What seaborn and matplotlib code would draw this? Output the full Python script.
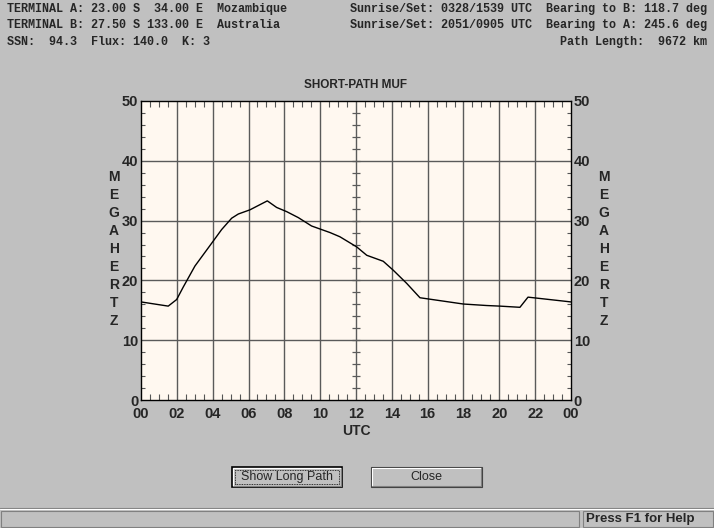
import numpy as np
import matplotlib
matplotlib.use("Agg")
import matplotlib.pyplot as plt
import seaborn as sns
from matplotlib.patches import Rectangle

# ---- data ----
hours = [0.0, 1.52, 1.99, 2.36, 3.01, 3.94, 4.5, 5.06, 5.43, 6.08, 7.05, 7.57, 8.13,
         8.78, 9.52, 10.08, 10.55, 11.1, 12.04, 12.6, 13.52, 14.08, 14.83, 15.57,
         17.99, 19.29, 20.03, 21.15, 21.6, 24.0]
muf = [16.4, 15.7, 16.8, 18.9, 22.4, 26.2, 28.5, 30.4, 31.1, 31.8, 33.3, 32.2, 31.5,
       30.5, 29.1, 28.5, 28.0, 27.3, 25.6, 24.2, 23.2, 21.7, 19.5, 17.1,
       16.05, 15.8, 15.7, 15.5, 17.2, 16.4]
xtick_vals = list(range(0, 25, 2))
xtick_labels = ["00", "02", "04", "06", "08", "10", "12", "14", "16", "18", "20", "22", "00"]
ytick_vals = [0, 10, 20, 30, 40, 50]

header_left = ["TERMINAL A: 23.00 S  34.00 E  Mozambique",
               "TERMINAL B: 27.50 S 133.00 E  Australia",
               "SSN:  94.3  Flux: 140.0  K: 3"]
header_mid = ["Sunrise/Set: 0328/1539 UTC", "Sunrise/Set: 2051/0905 UTC"]
header_right = ["Bearing to B: 118.7 deg", "Bearing to A: 245.6 deg", "Path Length:  9672 km"]

sns.set_style("white")
plt.rcParams['font.family'] = ['Liberation Sans', 'DejaVu Sans']

W, H = 714, 528
fig = plt.figure(figsize=(W / 100, H / 100), dpi=100, facecolor="#c0c0c0")

def fx(px):
    return px / W

def fy(py):
    return 1 - py / H

ax = fig.add_axes([fx(141), fy(400), fx(571) - fx(141), fy(101) - fy(400)])
ax.set_facecolor("#fff8f0")

grid_c = "#5a5a5a"
for xv in xtick_vals[1:-1]:
    ax.axvline(xv, color=grid_c, lw=1.0, zorder=1)
for yv in ytick_vals[1:-1]:
    ax.axhline(yv, color=grid_c, lw=1.0, zorder=1)

# centre cross ticks on the 12 h line
ax.hlines(np.arange(2, 50, 2), 11.8, 12.2, color=grid_c, lw=0.9, zorder=1)

sns.lineplot(x=hours, y=muf, ax=ax, color="black", lw=1.0, sort=False, zorder=3)

ax.set_xlim(0, 24)
ax.set_ylim(0, 50)
ax.set_xticks(xtick_vals)
ax.set_xticklabels(xtick_labels)
ax.set_yticks(ytick_vals)
ax.set_xticks(np.arange(0, 24.01, 0.5), minor=True)
ax.set_yticks(np.arange(0, 50.01, 2), minor=True)
ax.tick_params(axis="both", which="major", length=0, labelsize=10.5)
ax.tick_params(axis="x", which="major", pad=5)
ax.tick_params(axis="y", which="major", pad=2, left=True, right=True,
               labelleft=True, labelright=True)
ax.tick_params(axis="x", which="minor", direction="in", length=4, width=0.8,
               top=True, bottom=True, color="#555555")
ax.tick_params(axis="y", which="minor", direction="in", length=3, width=0.8,
               left=True, right=True, color="#555555")
for t in ax.xaxis.get_major_ticks():
    t.label1.set_fontweight("bold")
for t in ax.yaxis.get_major_ticks():
    t.label1.set_fontweight("bold")
    t.label2.set_fontweight("bold")
    t.label2.set_fontsize(10.5)
for s in ax.spines.values():
    s.set_color("black")
    s.set_linewidth(1.0)
ax.set_xlabel("")
ax.set_ylabel("")

# title and axis words
fig.text(fx(356), fy(85), "SHORT-PATH MUF", ha="center", va="center",
         fontsize=8.5, fontweight="bold")
fig.text(fx(356), fy(431), "UTC", ha="center", va="center", fontsize=10, fontweight="bold")
for i, ch in enumerate("MEGAHERTZ"):
    y = 177 + i * 18
    fig.text(fx(114), fy(y), ch, ha="center", va="center", fontsize=10, fontweight="bold")
    fig.text(fx(604), fy(y), ch, ha="center", va="center", fontsize=10, fontweight="bold")

# header lines
mono = ['Liberation Mono', 'DejaVu Sans Mono']
rows = [9, 25, 42]
for i, t in enumerate(header_left):
    fig.text(fx(7), fy(rows[i]), t, ha="left", va="center", family=mono,
             fontsize=8.5, fontweight="bold")
for i, t in enumerate(header_mid):
    fig.text(fx(350), fy(rows[i]), t, ha="left", va="center", family=mono,
             fontsize=8.5, fontweight="bold")
for i, t in enumerate(header_right):
    fig.text(fx(707), fy(rows[i]), t, ha="right", va="center", family=mono,
             fontsize=8.5, fontweight="bold")

# buttons
def button(x0, y0, x1, y1, label, focused=False):
    fig.patches.append(Rectangle((fx(x0), fy(y1)), fx(x1) - fx(x0), fy(y0) - fy(y1),
                                 transform=fig.transFigure, facecolor="#c0c0c0",
                                 edgecolor="black" if focused else "#404040",
                                 lw=1.2 if focused else 0.8))
    fig.add_artist(plt.Line2D([fx(x0 + 1), fx(x1 - 1)], [fy(y0 + 1), fy(y0 + 1)],
                              transform=fig.transFigure, color="white", lw=0.8))
    fig.add_artist(plt.Line2D([fx(x0 + 1), fx(x0 + 1)], [fy(y0 + 1), fy(y1 - 1)],
                              transform=fig.transFigure, color="white", lw=0.8))
    fig.add_artist(plt.Line2D([fx(x0 + 1), fx(x1 - 1)], [fy(y1 - 1.5), fy(y1 - 1.5)],
                              transform=fig.transFigure, color="#808080", lw=0.8))
    fig.add_artist(plt.Line2D([fx(x1 - 1.5), fx(x1 - 1.5)], [fy(y0 + 1), fy(y1 - 1)],
                              transform=fig.transFigure, color="#808080", lw=0.8))
    if focused:
        fig.patches.append(Rectangle((fx(x0 + 3), fy(y1 - 3)), fx(x1 - x0 - 6), fy(y0 + 3) - fy(y1 - 3),
                                     transform=fig.transFigure, facecolor="none",
                                     edgecolor="black", lw=0.6, ls=(0, (1, 1))))
    fig.text(fx((x0 + x1) / 2), fy((y0 + y1) / 2), label, ha="center", va="center",
             fontsize=9)

button(232, 467, 342, 487, "Show Long Path", focused=True)
button(371, 467, 482, 487, "Close")

# status bar
fig.add_artist(plt.Line2D([0, 1], [fy(508), fy(508)], transform=fig.transFigure,
                          color="#808080", lw=0.8))
fig.add_artist(plt.Line2D([0, 1], [fy(509), fy(509)], transform=fig.transFigure,
                          color="white", lw=0.8))
fig.patches.append(Rectangle((fx(1), fy(527)), fx(578), fy(511) - fy(527),
                             transform=fig.transFigure, facecolor="none",
                             edgecolor="#808080", lw=0.8))
fig.patches.append(Rectangle((fx(583), fy(527)), fx(130), fy(511) - fy(527),
                             transform=fig.transFigure, facecolor="none",
                             edgecolor="#808080", lw=0.8))
fig.text(fx(586), fy(519), "Press F1 for Help", ha="left", va="center",
         fontsize=9.5, fontweight="bold", fontstretch="condensed")

fig.savefig("out.png", dpi=100, facecolor=fig.get_facecolor())
